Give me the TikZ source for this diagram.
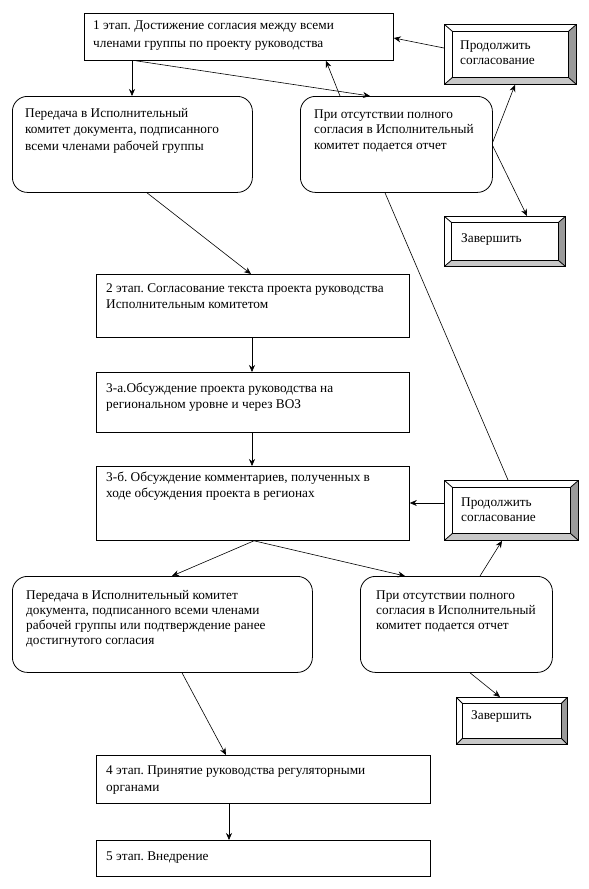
\documentclass[tikz,border=0pt]{standalone}
\usepackage{fontspec}
\setmainfont{Liberation Serif}
\usetikzlibrary{arrows.meta,calc}
\frenchspacing
\definecolor{bevdark}{HTML}{9A9A9A}
\definecolor{bevlight}{HTML}{C8C8C8}
\newcommand\mytx[1]{\rule{0pt}{10pt}#1}
\tikzset{
  stage/.style={draw, line width=0.8pt, rectangle, anchor=north west, inner sep=0pt},
  rbox/.style={stage, rounded corners=15pt},
  lbl/.style={anchor=north west, inner sep=0pt, align=left},
  arr/.style={line width=0.6pt, -{Stealth[length=7pt,width=6pt]}},
  plainln/.style={line width=0.6pt},
  bevel/.style 2 args={stage, path picture={
    \path let \p1=(path picture bounding box.south west), \p2=(path picture bounding box.north east) in
      [fill=bevdark] (\x2,\y2) -- (\x2,\y1) -- (\x2-#1,\y1+#2) -- (\x2-#1,\y2-#2) -- cycle;
    \path let \p1=(path picture bounding box.south west), \p2=(path picture bounding box.north east) in
      [fill=bevlight] (\x1,\y1) -- (\x2,\y1) -- (\x2-#1,\y1+#2) -- (\x1+#1,\y1+#2) -- cycle;
    \path let \p1=(path picture bounding box.south west), \p2=(path picture bounding box.north east) in
      [draw, line width=0.8pt] (\x1+#1,\y1+#2) rectangle (\x2-#1,\y2-#2)
      (\x1,\y1) -- (\x1+#1,\y1+#2) (\x1,\y2) -- (\x1+#1,\y2-#2)
      (\x2,\y1) -- (\x2-#1,\y1+#2) (\x2,\y2) -- (\x2-#1,\y2-#2);
  }},
}
\begin{document}
\begin{tikzpicture}[x=1pt,y=-1pt]
\useasboundingbox (0,0) rectangle (589,889);
\fill[white] (0,0) rectangle (589,889);

\node[stage, minimum width=309pt, minimum height=47pt,
  label={[lbl, xshift=9pt, yshift=-6pt, font=\fontsize{13.3}{18}\selectfont]north west:{\mytx{1 этап. Достижение согласия между всеми}\\членами группы по проекту руководства}}] (s1) at (84,13) {};

\node[bevel={8pt}{7pt}, minimum width=132pt, minimum height=60pt,
  label={[lbl, xshift=16pt, yshift=-15pt, font=\fontsize{13.3}{15}\selectfont]north west:{\mytx{Продолжить}\\согласование}}] (b1) at (444,24) {};

\node[rbox, minimum width=240pt, minimum height=96pt,
  label={[lbl, xshift=13pt, yshift=-11pt, font=\fontsize{13.3}{16.5}\selectfont]north west:{\mytx{Передача в Исполнительный}\\комитет документа, подписанного\\всеми членами рабочей группы}}] (A) at (12,96) {};

\node[rbox, minimum width=192pt, minimum height=96pt,
  label={[lbl, xshift=14pt, yshift=-12pt, font=\fontsize{13.3}{15.5}\selectfont]north west:{\mytx{При отсутствии полного}\\согласия в Исполнительный\\комитет подается отчет}}] (B) at (300,96) {};

\node[bevel={7pt}{6pt}, minimum width=121pt, minimum height=50pt,
  label={[lbl, xshift=17pt, yshift=-16pt, font=\fontsize{13.3}{15}\selectfont]north west:{\mytx{Завершить}}}] (z1) at (444,216) {};

\node[stage, minimum width=313pt, minimum height=63pt,
  label={[lbl, xshift=10pt, yshift=-8pt, font=\fontsize{13.3}{16}\selectfont]north west:{\mytx{2 этап. Согласование текста проекта руководства}\\Исполнительным комитетом}}] (s2) at (96,274) {};

\node[stage, minimum width=313pt, minimum height=60pt,
  label={[lbl, xshift=10pt, yshift=-10pt, font=\fontsize{13.3}{16}\selectfont]north west:{\mytx{3-а.Обсуждение проекта руководства на}\\региональном уровне и через ВОЗ}}] (s3a) at (96,372) {};

\node[stage, minimum width=313pt, minimum height=74pt,
  label={[lbl, xshift=10pt, yshift=-5pt, font=\fontsize{13.3}{16}\selectfont]north west:{\mytx{3-б. Обсуждение комментариев, полученных в}\\ходе обсуждения проекта в регионах}}] (s3b) at (96,466) {};

\node[bevel={8pt}{7pt}, minimum width=134pt, minimum height=60pt,
  label={[lbl, xshift=17pt, yshift=-16pt, font=\fontsize{13.3}{15}\selectfont]north west:{\mytx{Продолжить}\\согласование}}] (b2) at (444,480) {};

\node[rbox, minimum width=300pt, minimum height=96pt,
  label={[lbl, xshift=14pt, yshift=-13pt, font=\fontsize{13.3}{15}\selectfont]north west:{\mytx{Передача в Исполнительный комитет}\\документа, подписанного всеми членами\\рабочей группы или подтверждение ранее\\достигнутого согласия}}] (C) at (12,576) {};

\node[rbox, minimum width=192pt, minimum height=96pt,
  label={[lbl, xshift=16pt, yshift=-13pt, font=\fontsize{13.3}{15}\selectfont]north west:{\mytx{При отсутствии полного}\\согласия в Исполнительный\\комитет подается отчет}}] (D) at (360,576) {};

\node[bevel={6pt}{6pt}, minimum width=111pt, minimum height=47pt,
  label={[lbl, xshift=15pt, yshift=-12pt, font=\fontsize{13.3}{15}\selectfont]north west:{\mytx{Завершить}}}] (z2) at (456,697) {};

\node[stage, minimum width=334pt, minimum height=48pt,
  label={[lbl, xshift=10pt, yshift=-9pt, font=\fontsize{13.3}{17}\selectfont]north west:{\mytx{4 этап. Принятие руководства регуляторными}\\органами}}] (s4) at (96,755) {};

\node[stage, minimum width=334pt, minimum height=36pt,
  label={[lbl, xshift=10pt, yshift=-10pt, font=\fontsize{13.3}{17}\selectfont]north west:{\mytx{5 этап. Внедрение}}}] (s5) at (96,840) {};

% connectors
\draw[arr] ($(s1.south west)+(48,0)$) -- ($(A.north west)+(120,0)$);
\draw[arr] ($(s1.south west)+(52,0)$) -- ($(B.north west)+(70,0)$);
\draw[arr] ($(B.north west)+(40,0)$) -- ($(s1.south west)+(242,0)$);
\draw[arr] ($(b1.north west)+(0,24)$) -- ($(s1.north east)+(0,25)$);
\draw[arr] ($(B.north east)+(0,46)$) -- ($(b1.south west)+(71,0)$);
\draw[arr] ($(B.north east)+(0,50)$) -- ($(z1.north west)+(83,0)$);
\draw[arr] ($(A.south west)+(135,0)$) -- ($(s2.north west)+(155,0)$);
\draw[arr] ($(s2.south west)+(156,0)$) -- ($(s3a.north west)+(156,0)$);
\draw[arr] ($(s3a.south west)+(156,0)$) -- ($(s3b.north west)+(156,0)$);
\draw[plainln] ($(B.south west)+(85,0)$) -- ($(b2.north west)+(64,0)$);
\draw[arr] ($(b2.north west)+(0,23)$) -- ($(s3b.north east)+(0,37)$);
\draw[arr] ($(s3b.south west)+(158,0)$) -- ($(C.north west)+(160,0)$);
\draw[arr] ($(s3b.south west)+(158,0)$) -- ($(D.north west)+(45,0)$);
\draw[arr] ($(D.north west)+(120,0)$) -- ($(b2.south west)+(58,0)$);
\draw[arr] ($(D.south west)+(110,0)$) -- ($(z2.north west)+(44,0)$);
\draw[arr] ($(C.south west)+(170,0)$) -- ($(s4.north west)+(130,0)$);
\draw[arr] ($(s4.south west)+(133,0)$) -- ($(s5.north west)+(133,0)$);
\end{tikzpicture}
\end{document}
